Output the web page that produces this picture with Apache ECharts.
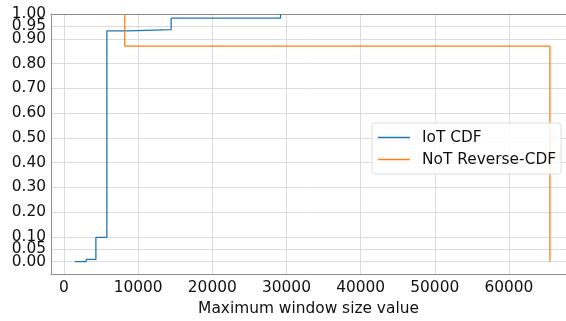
<!DOCTYPE html>
<html><head><meta charset="utf-8">
<script src="https://cdn.jsdelivr.net/npm/echarts@6/dist/echarts.min.js"></script>
<style>html,body{margin:0;padding:0;background:#fff}#c{width:566px;height:321px}</style>
</head><body><div id="c"></div>
<script>
// IoT CDF step points
const iotX = [1450, 3000, 3000, 4300, 4300, 5780, 5780, 8700, 8700, 14450, 14450, 29200, 29200];
const iotY = [0.0, 0.0, 0.009, 0.009, 0.098, 0.098, 0.932, 0.932, 0.937, 0.937, 0.983, 0.983, 1.0];
// NoT Reverse-CDF step points
const notX = [8192, 8192, 65535, 65535];
const notY = [1.0, 0.87, 0.87, 0.0];
const xTicks = [0, 10000, 20000, 30000, 40000, 50000, 60000];
const yTicksMain = [0.0, 0.1, 0.2, 0.3, 0.4, 0.5, 0.6, 0.7, 0.8, 0.9, 1.0];
const yTicksExtra = [0.05, 0.95];
const seriesNames = ['IoT CDF', 'NoT Reverse-CDF'];
const xTitle = 'Maximum window size value';

const font = 'DejaVu Sans';
const fs = 15.4;
const txt = '#111';
const chart = echarts.init(document.getElementById('c'), null, {renderer: 'canvas'});
const zip = (a, b) => a.map((v, i) => [v, b[i]]);
const yAxisBase = (ticks, showLine) => ({
  type: 'value', min: -0.05, max: 1.0, position: 'left', offset: 0, alignTicks: false,
  axisLine: {show: showLine, onZero: false, lineStyle: {color: '#8c8c8c', width: 1}},
  axisTick: {show: false, customValues: ticks},
  axisLabel: {customValues: ticks, fontFamily: font, fontSize: fs, color: txt, margin: 5,
    hideOverlap: false, formatter: v => Number(v).toFixed(2)},
  splitLine: {show: true, lineStyle: {color: '#dcdcdc', width: 1}}
});
chart.setOption({
  animation: false,
  textStyle: {fontFamily: font},
  grid: {left: 51, right: 0, top: 14, bottom: 38, containLabel: false},
  legend: {
    orient: 'vertical', left: 372, top: 123,
    padding: [7, 5, 7, 6], itemGap: 7, itemWidth: 32, itemHeight: 1.5,
    icon: 'rect',
    backgroundColor: 'rgba(255,255,255,0.85)', borderColor: '#dddddd', borderWidth: 1, borderRadius: 3,
    textStyle: {fontFamily: font, fontSize: fs, color: txt, padding: [0, 0, 0, 7]},
    data: seriesNames
  },
  xAxis: [{
    type: 'value', min: -1754, max: 67700,
    name: xTitle, nameLocation: 'middle', nameGap: 27,
    nameTextStyle: {fontFamily: font, fontSize: fs, color: txt},
    axisLine: {show: true, onZero: false, lineStyle: {color: '#8c8c8c', width: 1}},
    axisTick: {show: false, customValues: xTicks},
    axisLabel: {customValues: xTicks, fontFamily: font, fontSize: fs, color: txt, margin: 6,
      hideOverlap: false, formatter: v => String(v)},
    splitLine: {show: true, lineStyle: {color: '#dcdcdc', width: 1}}
  }, {
    type: 'value', min: -1754, max: 67700, position: 'top',
    axisLine: {show: true, onZero: false, lineStyle: {color: '#8c8c8c', width: 1}},
    axisTick: {show: false}, axisLabel: {show: false}, splitLine: {show: false}
  }],
  yAxis: [yAxisBase(yTicksMain, true), yAxisBase(yTicksExtra, false)],
  series: [{
    name: seriesNames[0], type: 'line', symbol: 'none', data: zip(iotX, iotY),
    lineStyle: {color: '#1f77b4', width: 1.3}, itemStyle: {color: '#1f77b4'}
  }, {
    name: seriesNames[1], type: 'line', symbol: 'none', data: zip(notX, notY),
    lineStyle: {color: '#ff7f0e', width: 1.3}, itemStyle: {color: '#ff7f0e'}
  }]
});
</script></body></html>
